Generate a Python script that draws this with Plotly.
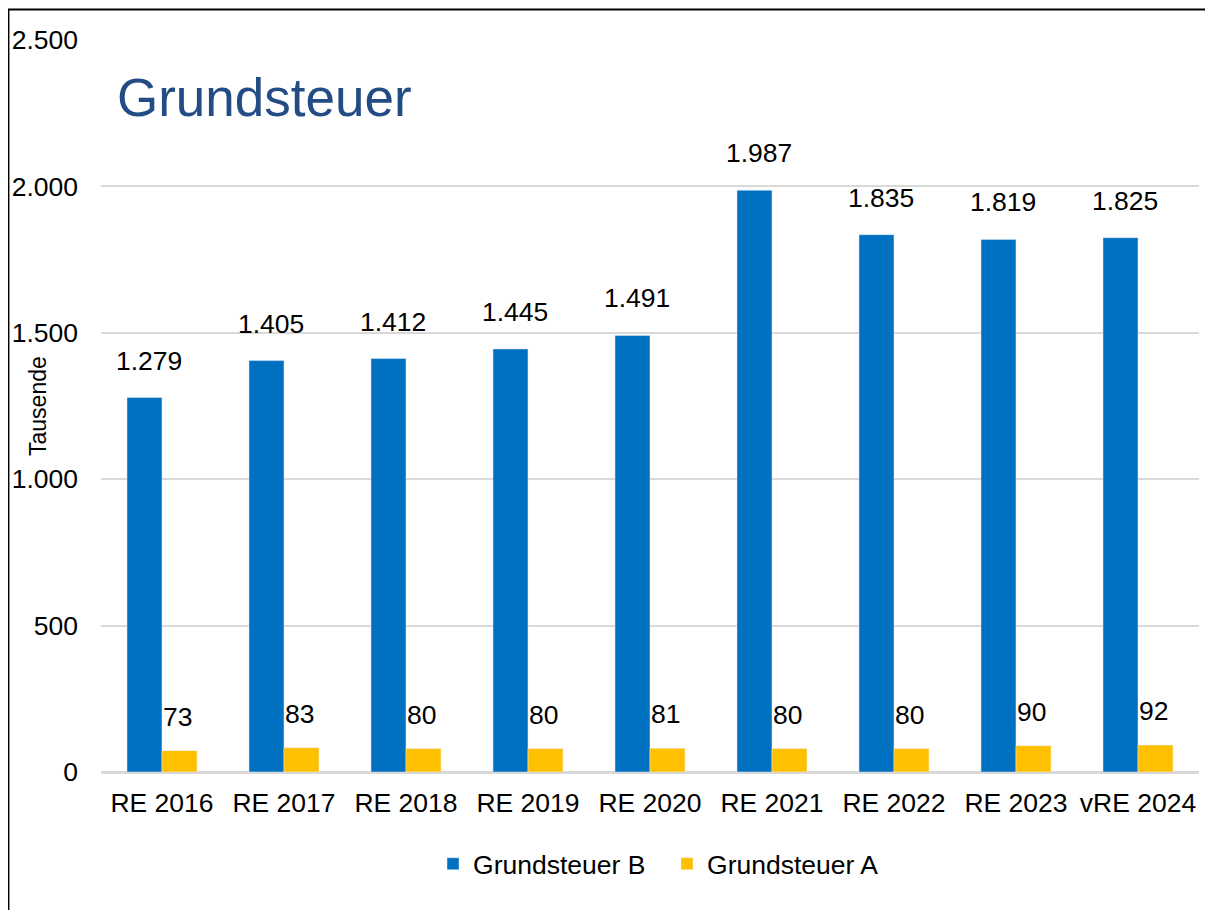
import plotly.graph_objects as go

categories = ["RE 2016", "RE 2017", "RE 2018", "RE 2019", "RE 2020", "RE 2021", "RE 2022", "RE 2023", "vRE 2024"]
grundsteuer_b = [1279, 1405, 1412, 1445, 1491, 1987, 1835, 1819, 1825]
grundsteuer_a = [73, 83, 80, 80, 81, 80, 80, 90, 92]
y_ticks = [0, 500, 1000, 1500, 2000, 2500]

FONT = "Liberation Sans, Arial, sans-serif"
BLUE = "#0070C0"
YELLOW = "#FFC000"
GRID = "#D9D9D9"
FS = 26.5

def fmt(v):
    return f"{v:,}".replace(",", ".")

fig = go.Figure()
fig.add_trace(go.Bar(name="Grundsteuer B", x=categories, y=grundsteuer_b, marker_color=BLUE))
fig.add_trace(go.Bar(name="Grundsteuer A", x=categories, y=grundsteuer_a, marker_color=YELLOW))

annotations = []
for c, v in zip(categories, grundsteuer_b):
    annotations.append(dict(x=c, y=v, xref="x", yref="y", text=fmt(v), showarrow=False,
                            xshift=-13, yshift=37, yanchor="middle",
                            font=dict(family=FONT, size=FS, color="#000000")))
for c, v in zip(categories, grundsteuer_a):
    annotations.append(dict(x=c, y=v, xref="x", yref="y", text=fmt(v), showarrow=False,
                            xshift=15, yshift=34, yanchor="middle",
                            font=dict(family=FONT, size=FS, color="#000000")))
annotations.append(dict(x=0.0128, y=0.922, xref="paper", yref="paper", text="Grundsteuer",
                        showarrow=False, xanchor="left", yanchor="middle",
                        font=dict(family=FONT, size=53, color="#244C84")))
annotations.append(dict(x=-0.0574, y=0.5, xref="paper", yref="paper", text="Tausende",
                        showarrow=False, xanchor="center", yanchor="middle", textangle=-90,
                        font=dict(family=FONT, size=23, color="#000000")))

fig.update_layout(
    width=1213, height=910,
    margin=dict(l=93, r=22, t=32, b=146, autoexpand=False),
    paper_bgcolor="white", plot_bgcolor="white",
    barmode="group", bargap=0.426, bargroupgap=0,
    font=dict(family=FONT, size=FS, color="#000000"),
    showlegend=True,
    legend=dict(orientation="h", x=0.5155, xanchor="center", y=-0.1257, yanchor="middle",
                font=dict(family=FONT, size=FS), itemwidth=30, entrywidth=189,
                bgcolor="rgba(0,0,0,0)"),
    annotations=annotations,
    shapes=[dict(type="rect", xref="paper", yref="paper", x0=-0.0843, x1=1.05, y0=-0.25, y1=1.0417,
                 line=dict(color="#000000", width=2), fillcolor="rgba(0,0,0,0)", layer="above")],
)
fig.update_xaxes(showgrid=False, showline=True, linecolor=GRID, linewidth=2, ticks="",
                 tickfont=dict(family=FONT, size=FS), ticklabelstandoff=6, automargin=False)
fig.update_yaxes(range=[0, 2500], tickvals=y_ticks, ticktext=[fmt(t) for t in y_ticks],
                 showgrid=True, gridcolor=GRID, gridwidth=1.5, zeroline=True, zerolinecolor=GRID,
                 zerolinewidth=2, showline=False, ticks="", automargin=False,
                 tickfont=dict(family=FONT, size=FS), ticklabelstandoff=22)

fig.write_html("out.html")
